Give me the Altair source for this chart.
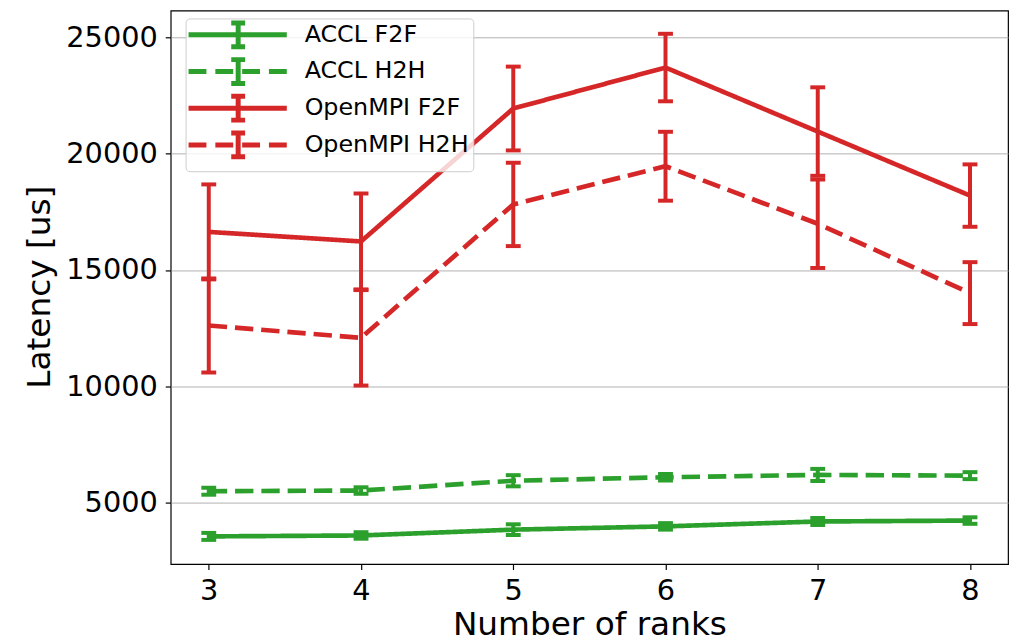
import altair as alt
import pandas as pd

# ---- data ----
ranks = [3, 4, 5, 6, 7, 8]
series_names = ["ACCL F2F", "ACCL H2H", "OpenMPI F2F", "OpenMPI H2H"]

accl_f2f = [3560, 3600, 3850, 3990, 4200, 4240]
accl_f2f_err = [150, 140, 230, 140, 150, 140]
accl_h2h = [5500, 5530, 5950, 6100, 6200, 6170]
accl_h2h_err = [150, 140, 240, 140, 260, 150]
mpi_f2f = [16640, 16230, 21940, 23700, 20950, 18200]
mpi_f2f_err = [2040, 2060, 1800, 1450, 1900, 1340]
mpi_h2h = [12620, 12090, 17820, 19460, 16990, 14010]
mpi_h2h_err = [2020, 2050, 1790, 1480, 1900, 1330]

y_ticks = [5000, 10000, 15000, 20000, 25000]

colors = ["#2ca02c", "#2ca02c", "#d62728", "#d62728"]
dashes = [[1, 0], [18.5, 8], [1, 0], [18.5, 8]]

# legend glyphs: line + error bar (units scaled by sqrt(symbolSize)/2)
solid_path = ("M-1.35,0 L8.55,0 M3.65,-1.2 L3.65,1.2 "
              "M2.95,-1.2 L4.35,-1.2 M2.95,1.2 L4.35,1.2")
dashed_path = ("M-1.35,0 L0.45,0 M1.35,0 L3.15,0 M4.05,0 L5.85,0 M6.75,0 L8.55,0 "
               "M3.65,-1.2 L3.65,1.2 M2.95,-1.2 L4.35,-1.2 M2.95,1.2 L4.35,1.2")
legend_paths = [solid_path, dashed_path, solid_path, dashed_path]

rows = []
for name, vals, errs in zip(series_names,
                            [accl_f2f, accl_h2h, mpi_f2f, mpi_h2h],
                            [accl_f2f_err, accl_h2h_err, mpi_f2f_err, mpi_h2h_err]):
    for r, v, e in zip(ranks, vals, errs):
        rows.append({"series": name, "rank": r, "latency": v,
                     "low": v - e, "high": v + e})
df = pd.DataFrame(rows)

FONT = "DejaVu Sans"

x_scale = alt.Scale(domain=[2.75, 8.25], nice=False, zero=False)
y_scale = alt.Scale(domain=[2369.5, 26150], nice=False, zero=False)

x_axis = alt.Axis(values=ranks, title="Number of ranks", grid=False,
                  titleX=422, titleY=71, titleBaseline="alphabetic",
                  titleAlign="center", labelPadding=7, labelFlush=False,
                  labelOverlap=False)
y_axis = alt.Axis(values=y_ticks, title="Latency [us]", grid=True, format="d",
                  titleX=-122, titleY=278.5, titleAngle=270,
                  titleBaseline="alphabetic", titleAlign="center",
                  labelPadding=8, labelFlush=False, labelOverlap=False)


def X():
    return alt.X("rank:Q", scale=x_scale, axis=x_axis)


def Y(field):
    return alt.Y(f"{field}:Q", scale=y_scale, axis=y_axis)


base = alt.Chart(df)

layers = []
for name, col, dash in zip(series_names, colors, dashes):
    sub = base.transform_filter(alt.datum.series == name)
    layers.append(sub.mark_line(strokeWidth=4.7, color=col, strokeDash=dash).encode(
        x=X(), y=Y("latency"), order=alt.Order("rank:Q")))
    layers.append(sub.mark_rule(strokeWidth=4, color=col).encode(
        x=X(), y=Y("low"), y2="high:Q"))
    layers.append(sub.mark_tick(orient="horizontal", thickness=4, size=15,
                                color=col, opacity=1).encode(x=X(), y=Y("low")))
    layers.append(sub.mark_tick(orient="horizontal", thickness=4, size=15,
                                color=col, opacity=1).encode(x=X(), y=Y("high")))

legend = alt.Legend(
    title=None, orient="none", legendX=15, legendY=8,
    symbolSize=400, symbolStrokeWidth=5, symbolOpacity=1,
    symbolFillColor="transparent",
    labelFont=FONT, labelFontSize=24, labelColor="#000000", labelLimit=400,
    labelOffset=91, padding=4, rowPadding=-8,
    strokeColor="#cccccc", fillColor="rgba(255,255,255,0.8)", cornerRadius=4,
)

legend_pts = base.mark_point(opacity=0, filled=False).encode(
    x=X(), y=Y("latency"),
    color=alt.Color("series:N", scale=alt.Scale(domain=series_names, range=colors),
                    legend=legend),
    shape=alt.Shape("series:N", scale=alt.Scale(domain=series_names, range=legend_paths),
                    legend=legend),
)
layers.append(legend_pts)

chart = alt.layer(*layers).properties(
    width=844, height=558,
    padding={"left": 164, "top": 0, "right": 7, "bottom": 78},
    autosize=alt.AutoSizeParams(type="none"),
).configure_view(
    stroke="#000000", strokeWidth=1.2,
).configure_axis(
    domain=False,
    labelFont=FONT, labelFontSize=29, labelColor="#000000",
    titleFont=FONT, titleFontSize=33, titleFontWeight="normal", titleColor="#000000",
    tickColor="#000000", tickSize=5.5, tickWidth=1.2,
    gridColor="#b0b0b0", gridWidth=1,
)

chart.save("out.html", embed_options={"renderer": "svg", "actions": False})
